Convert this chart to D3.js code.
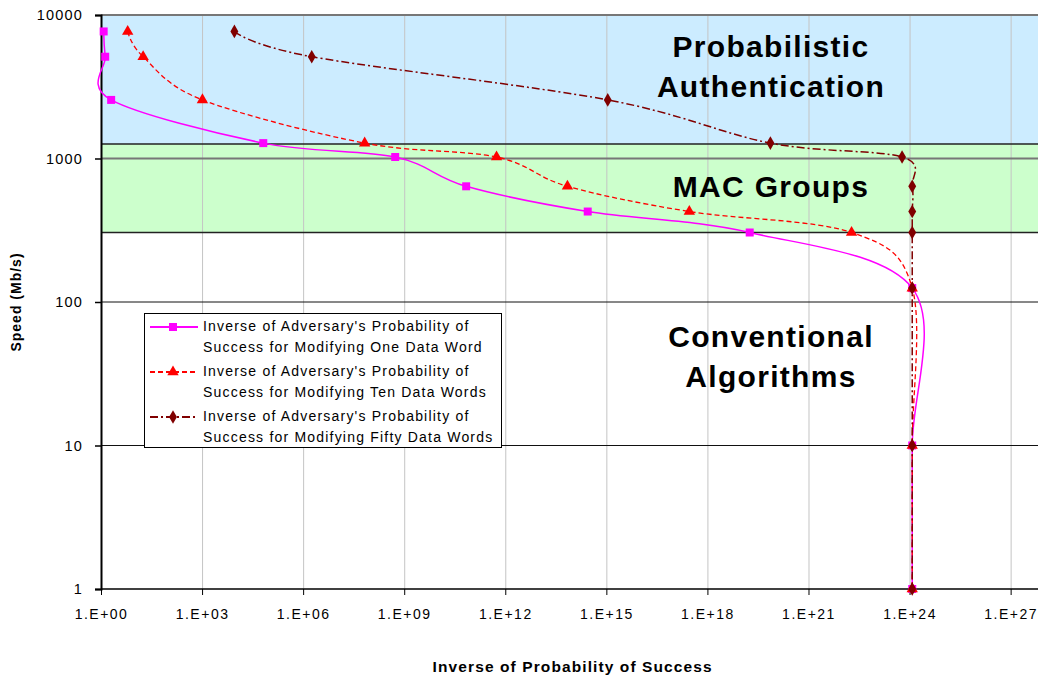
<!DOCTYPE html>
<html>
<head>
<meta charset="utf-8">
<script src="https://cdn.jsdelivr.net/npm/d3@7"></script>
<style>
  body { margin: 0; background: #fff; }
  text { font-family: 'Liberation Sans', Arial, sans-serif; }
</style>
</head>
<body>
<div id="chart"></div>
<script>
// speeds (Mb/s) shared by the three series
var speeds = [7680, 5120, 2560, 1280, 1024, 640, 427, 305, 125, 10, 1];

// inverse of probability of success
var oneWord = [1.2, 1.333, 2, 65536, 5.4e8, 6.9e10, 2.8e14, 1.8e19, 1.2e24, 1.2e24, 1.2e24];
var tenWords = [6.2, 17.8, 1024, 6.7e7, 5.5e11, 7.0e13, 2.9e17, 1.9e22, 1.2e24, 1.2e24, 1.2e24];
var fiftyWords = [9100, 1.8e6, 1.1e15, 7.4e19, 6.0e23, 1.2e24, 1.2e24, 1.2e24, 1.2e24, 1.2e24, 1.2e24];

var seriesNames = [
  ["Inverse of Adversary's Probability of", "Success for Modifying One Data Word"],
  ["Inverse of Adversary's Probability of", "Success for Modifying Ten Data Words"],
  ["Inverse of Adversary's Probability of", "Success for Modifying Fifty Data Words"]
];

var xTicks = [1e0, 1e3, 1e6, 1e9, 1e12, 1e15, 1e18, 1e21, 1e24, 1e27];
var xTickLabels = ["1.E+00", "1.E+03", "1.E+06", "1.E+09", "1.E+12", "1.E+15", "1.E+18", "1.E+21", "1.E+24", "1.E+27"];
var yTicks = [1, 10, 100, 1000, 10000];

// speed bands
var bandTops = [10000, 1260];
var bandBottoms = [1260, 305];
var regionLabels = [
  ["Probabilistic", "Authentication"],
  ["MAC Groups"],
  ["Conventional", "Algorithms"]
];
// speed at the baseline of each label's first line
var regionSpeeds = [5100, 540, 48.5];

var W = 1038, H = 679;
var margin = { top: 15, left: 101, bottom: 90 };

var svg = d3.select('#chart')
  .append('svg')
  .attr('width', W)
  .attr('height', H)
  .style('display', 'block');

var x = d3.scaleLog().domain([1, 1e28]).range([margin.left, margin.left + 28 * 33.69]);
var y = d3.scaleLog().domain([1, 10000]).range([H - margin.bottom, margin.top]);

var right = W;

// background bands
var bandColors = ['#CCECFF', '#CCFFCC'];
svg.selectAll('.band')
  .data(bandTops)
  .enter()
  .append('rect')
  .attr('x', x(1))
  .attr('y', function (d) { return y(d); })
  .attr('width', right - x(1))
  .attr('height', function (d, i) { return y(bandBottoms[i]) - y(d); })
  .attr('fill', function (d, i) { return bandColors[i]; });

// vertical gridlines
svg.selectAll('.vgrid')
  .data(xTicks.slice(1))
  .enter()
  .append('line')
  .attr('x1', function (d) { return x(d) + 0.5; })
  .attr('x2', function (d) { return x(d) + 0.5; })
  .attr('y1', y(10000))
  .attr('y2', y(1))
  .attr('stroke', '#c4c4c4')
  .attr('stroke-width', 1);

// horizontal gridlines
svg.selectAll('.hgrid')
  .data(yTicks.slice(1))
  .enter()
  .append('line')
  .attr('x1', x(1))
  .attr('x2', right)
  .attr('y1', function (d) { return y(d); })
  .attr('y2', function (d) { return y(d); })
  .attr('stroke', function (d) { return d >= 1000 ? '#777' : '#111'; })
  .attr('stroke-width', function (d) { return d >= 1000 ? 2 : 1; });

// band borders
svg.selectAll('.bandline')
  .data(bandBottoms)
  .enter()
  .append('line')
  .attr('x1', x(1))
  .attr('x2', right)
  .attr('y1', function (d) { return y(d); })
  .attr('y2', function (d) { return y(d); })
  .attr('stroke', '#222')
  .attr('stroke-width', 1.5);

// axes
var yAxis = svg.append('g')
  .attr('transform', 'translate(' + x(1) + ',0)')
  .call(d3.axisLeft(y).tickValues(yTicks).tickFormat(d3.format('d')).tickSize(6).tickPadding(12));
yAxis.select('.domain').attr('stroke', '#000').attr('stroke-width', 2);
yAxis.selectAll('.tick line').attr('stroke', '#000').attr('stroke-width', 1.5);
yAxis.selectAll('text')
  .style('font-family', "'Liberation Sans', Arial, sans-serif")
  .style('font-size', '14.5px')
  .style('letter-spacing', '1.2px')
  .attr('fill', '#000');

var xAxis = svg.append('g')
  .attr('transform', 'translate(0,' + y(1) + ')')
  .call(d3.axisBottom(x).tickValues(xTicks)
    .tickFormat(function (d, i) { return xTickLabels[i]; })
    .tickSize(6).tickPadding(14));
xAxis.select('.domain').remove();
xAxis.append('line')
  .attr('x1', x(1))
  .attr('x2', right)
  .attr('stroke', '#000')
  .attr('stroke-width', 1.5);
xAxis.selectAll('.tick line').attr('stroke', '#000').attr('stroke-width', 1);
xAxis.selectAll('text')
  .style('font-family', "'Liberation Sans', Arial, sans-serif")
  .style('font-size', '14px')
  .style('letter-spacing', '1.5px')
  .attr('fill', '#000');

// axis titles
svg.append('text')
  .attr('x', (x(1) + x(1e28)) / 2)
  .attr('y', 672)
  .attr('text-anchor', 'middle')
  .style('font-size', '15.5px')
  .style('font-weight', 'bold')
  .style('letter-spacing', '1.1px')
  .text('Inverse of Probability of Success');

svg.append('text')
  .attr('transform', 'translate(21,' + (y(1) + y(10000)) / 2 + ') rotate(-90)')
  .attr('text-anchor', 'middle')
  .style('font-size', '14px')
  .style('font-weight', 'bold')
  .style('letter-spacing', '1px')
  .text('Speed (Mb/s)');

// series
var series = [
  { xs: oneWord, color: '#FF00FF', dash: null, width: 1.5, marker: d3.symbolSquare, size: 64 },
  { xs: tenWords, color: '#FF0000', dash: '5,3', width: 1.3, marker: d3.symbolTriangle, size: 56 },
  { xs: fiftyWords, color: '#800000', dash: '8,3,2,3', width: 1.5, marker: d3.symbolDiamond, size: 54 }
];

var line = d3.line()
  .x(function (d) { return x(d[0]); })
  .y(function (d) { return y(d[1]); })
  .curve(d3.curveCardinal.tension(0));

series.forEach(function (s) {
  var pts = s.xs.map(function (v, i) { return [v, speeds[i]]; });
  svg.append('path')
    .datum(pts)
    .attr('d', line)
    .attr('fill', 'none')
    .attr('stroke', s.color)
    .attr('stroke-width', s.width)
    .attr('stroke-dasharray', s.dash);
  svg.selectAll(null)
    .data(pts)
    .enter()
    .append('path')
    .attr('d', d3.symbol().type(s.marker).size(s.size))
    .attr('transform', function (d) { return 'translate(' + x(d[0]) + ',' + y(d[1]) + ')'; })
    .attr('fill', s.color);
});

// region labels
regionLabels.forEach(function (lines, i) {
  var t = svg.append('text')
    .attr('x', 771)
    .attr('text-anchor', 'middle')
    .style('font-size', '30px')
    .style('font-weight', 'bold')
    .style('letter-spacing', '1.3px');
  var base = y(regionSpeeds[i]);
  lines.forEach(function (l, j) {
    t.append('tspan')
      .attr('x', 771)
      .attr('y', base + j * 40)
      .text(l);
  });
});

// legend
var legend = svg.append('g');
legend.append('rect')
  .attr('x', 144.5)
  .attr('y', 313.5)
  .attr('width', 357)
  .attr('height', 134)
  .attr('fill', '#fff')
  .attr('stroke', '#000')
  .attr('stroke-width', 1);

series.forEach(function (s, i) {
  var cy = 327 + i * 45;
  legend.append('line')
    .attr('x1', 150)
    .attr('x2', 198)
    .attr('y1', cy)
    .attr('y2', cy)
    .attr('stroke', s.color)
    .attr('stroke-width', 2)
    .attr('stroke-dasharray', s.dash);
  legend.append('path')
    .attr('d', d3.symbol().type(s.marker).size(s.size))
    .attr('transform', 'translate(173,' + cy + ')')
    .attr('fill', s.color);
  seriesNames[i].forEach(function (l, j) {
    legend.append('text')
      .attr('x', 203)
      .attr('y', cy + 4 + j * 21)
      .style('font-size', '14px')
      .style('letter-spacing', '1.2px')
      .text(l);
  });
});
</script>
</body>
</html>
